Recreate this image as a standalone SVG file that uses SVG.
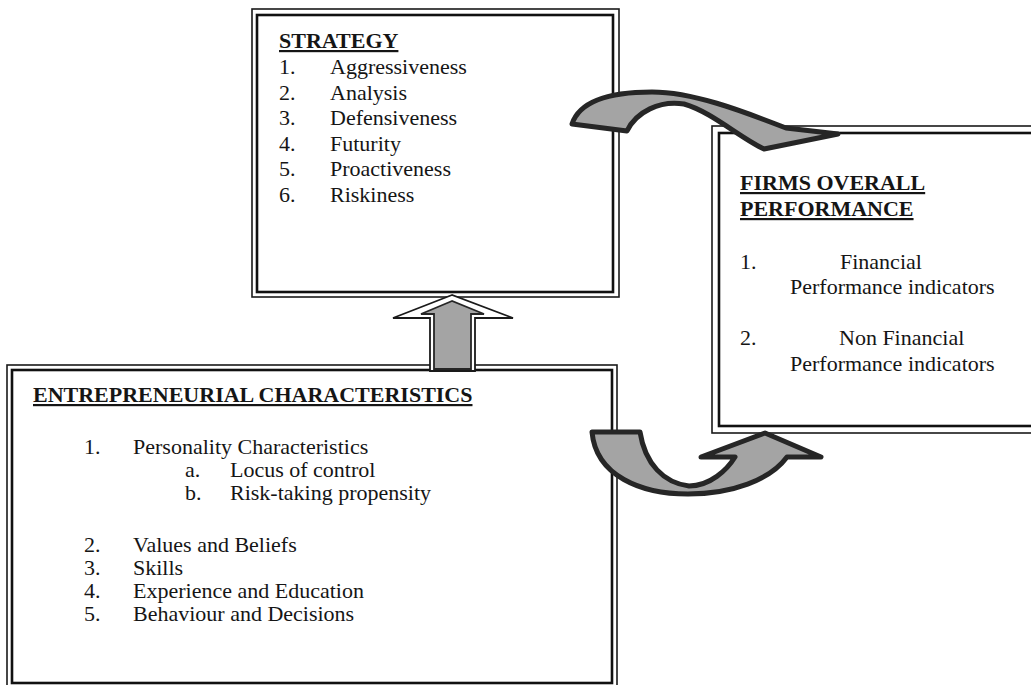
<svg xmlns="http://www.w3.org/2000/svg" width="1031" height="685" viewBox="0 0 1031 685">
<style>
.t{font-family:"Liberation Serif","Times New Roman",serif;font-size:22px;fill:#151515}
.h{font-weight:bold;text-decoration:underline}
.bo{fill:none;stroke:#1a1a1a;stroke-width:1.6}
.bi{fill:none;stroke:#111;stroke-width:2.6}
.ca{fill:#a4a4a4;stroke:#262626;stroke-width:5;stroke-linejoin:round}
.ua{fill:#fff;stroke:#1a1a1a;stroke-width:1.8;stroke-linejoin:miter}
.ui{fill:#a4a4a4;stroke:#262626;stroke-width:1.8}
</style>
<rect width="1031" height="685" fill="#fff"/>

<g id="strategy">
<rect class="bo" x="252" y="9" width="367" height="288"/>
<rect class="bi" x="257" y="15" width="356" height="277"/>
<text class="t h" x="279" y="48">STRATEGY</text>
<text class="t" x="279" y="74">1.</text><text class="t" x="330" y="74">Aggressiveness</text>
<text class="t" x="279" y="99.5">2.</text><text class="t" x="330" y="99.5">Analysis</text>
<text class="t" x="279" y="125">3.</text><text class="t" x="330" y="125">Defensiveness</text>
<text class="t" x="279" y="150.5">4.</text><text class="t" x="330" y="150.5">Futurity</text>
<text class="t" x="279" y="176">5.</text><text class="t" x="330" y="176">Proactiveness</text>
<text class="t" x="279" y="201.5">6.</text><text class="t" x="330" y="201.5">Riskiness</text>
</g>

<g id="firms">
<rect class="bo" x="712" y="126" width="330" height="307"/>
<rect class="bi" x="719" y="133" width="330" height="293"/>
<text class="t h" x="740" y="190">FIRMS OVERALL</text>
<text class="t h" x="740" y="216">PERFORMANCE</text>
<text class="t" x="740" y="269">1.</text><text class="t" x="840" y="269">Financial</text>
<text class="t" x="790" y="294">Performance indicators</text>
<text class="t" x="740" y="345">2.</text><text class="t" x="839" y="345">Non Financial</text>
<text class="t" x="790" y="371">Performance indicators</text>
</g>

<g id="entrepreneurial">
<rect class="bo" x="7" y="365" width="610" height="330"/>
<rect class="bi" x="12" y="370" width="600" height="313"/>
<text class="t h" x="33" y="402">ENTREPRENEURIAL CHARACTERISTICS</text>
<text class="t" x="84" y="454">1.</text><text class="t" x="133" y="454">Personality Characteristics</text>
<text class="t" x="185" y="477">a.</text><text class="t" x="230" y="477">Locus of control</text>
<text class="t" x="185" y="500">b.</text><text class="t" x="230" y="500">Risk-taking propensity</text>
<text class="t" x="84" y="552">2.</text><text class="t" x="133" y="552">Values and Beliefs</text>
<text class="t" x="84" y="575">3.</text><text class="t" x="133" y="575">Skills</text>
<text class="t" x="84" y="598">4.</text><text class="t" x="133" y="598">Experience and Education</text>
<text class="t" x="84" y="621">5.</text><text class="t" x="133" y="621">Behaviour and Decisions</text>
</g>

<g id="connectors">
<g id="up-arrow">
<polygon class="ua" points="452,295 393,318 430,318 430,371 475,371 475,318 513,318"/>
<polygon class="ui" points="452,301 421,314 434,314 434,369 471,369 471,314 484,314"/>
</g>
<path id="top-curved-arrow" class="ca" d="M572,124 C580,100 612,92 652,92 C692,92 740,110 786,128 L838,134 L764,149 C740,138 712,112 684,104 C660,100 636,112 627,131 Z"/>
<path id="bottom-curved-arrow" class="ca" d="M592,432 L640,432 C645,464 664,483 689,486 C710,486 727,470 735,457 L701,457 L765,433 L821,457 L787,457 C770,480 732,494 688,494 C641,494 596,476 592,432 Z"/>
</g>
</svg>
